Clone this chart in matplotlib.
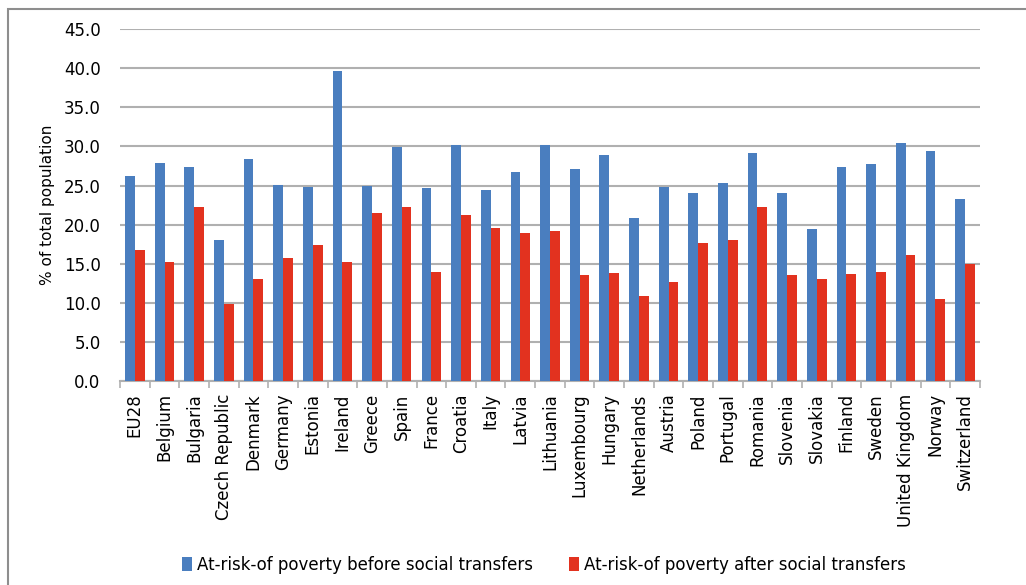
import matplotlib.pyplot as plt
import matplotlib.patches as patches
import numpy as np

countries = ["EU28", "Belgium", "Bulgaria", "Czech Republic", "Denmark", "Germany",
             "Estonia", "Ireland", "Greece", "Spain", "France", "Croatia", "Italy",
             "Latvia", "Lithuania", "Luxembourg", "Hungary", "Netherlands", "Austria",
             "Poland", "Portugal", "Romania", "Slovenia", "Slovakia", "Finland",
             "Sweden", "United Kingdom", "Norway", "Switzerland"]
before = [26.2, 27.9, 27.4, 18.0, 28.4, 25.1, 24.8, 39.6, 24.9, 29.9, 24.7, 30.2, 24.4,
          26.7, 30.2, 27.1, 28.9, 20.9, 24.8, 24.0, 25.3, 29.1, 24.1, 19.4, 27.4,
          27.8, 30.4, 29.4, 23.3]
after = [16.8, 15.2, 22.2, 9.8, 13.0, 15.7, 17.4, 15.2, 21.5, 22.2, 13.9, 21.2, 19.6,
         18.9, 19.2, 13.5, 13.8, 10.9, 12.6, 17.7, 18.0, 22.2, 13.5, 13.0, 13.7,
         13.9, 16.1, 10.5, 14.9]
yticks = np.arange(0, 46, 5)

fig = plt.figure(figsize=(10.26, 5.85), dpi=100)
ax = fig.add_axes([0.117, 0.349, 0.838, 0.601])

# frame around the whole chart
fig.patches.append(patches.Rectangle((8 / 1026, -0.1), 1.2, 1 - 9 / 585 + 0.1,
                                     transform=fig.transFigure, fill=False,
                                     edgecolor="#8e8e8e", linewidth=1.5))

x = np.arange(len(countries))
w = 0.33
ax.bar(x - w / 2, before, w, color="#4a7ebf", label="At-risk-of poverty before social transfers", zorder=3)
ax.bar(x + w / 2, after, w, color="#e2321f", label="At-risk-of poverty after social transfers", zorder=3)

ax.set_xlim(-0.5, len(countries) - 0.5)
ax.set_ylim(0, 45)
ax.set_yticks(yticks)
ax.set_yticklabels(["%.1f" % v for v in yticks], fontsize=12)
ax.yaxis.grid(True, color="#b0b0b0", linewidth=1.5, zorder=0)
ax.tick_params(axis="y", length=0, pad=14)

ax.set_xticks(x)
ax.set_xticklabels(countries, rotation=90, fontsize=12)
ax.set_xticks(np.arange(-0.5, len(countries)), minor=True)
ax.tick_params(axis="x", which="major", length=0, pad=9)
ax.tick_params(axis="x", which="minor", length=5, color="#b0b0b0", width=1.2)

for s in ["left", "right", "top"]:
    ax.spines[s].set_visible(False)
ax.spines["bottom"].set_color("#b0b0b0")
ax.spines["bottom"].set_linewidth(1.5)

ax.set_ylabel("% of total population", fontsize=11, labelpad=6)

fig.legend(loc="center", bbox_to_anchor=(0.53, 0.034), ncol=2, frameon=False,
           fontsize=12, handlelength=0.6, handleheight=0.9, handletextpad=0.3,
           columnspacing=2.2)

fig.savefig("out.png", dpi=100)
